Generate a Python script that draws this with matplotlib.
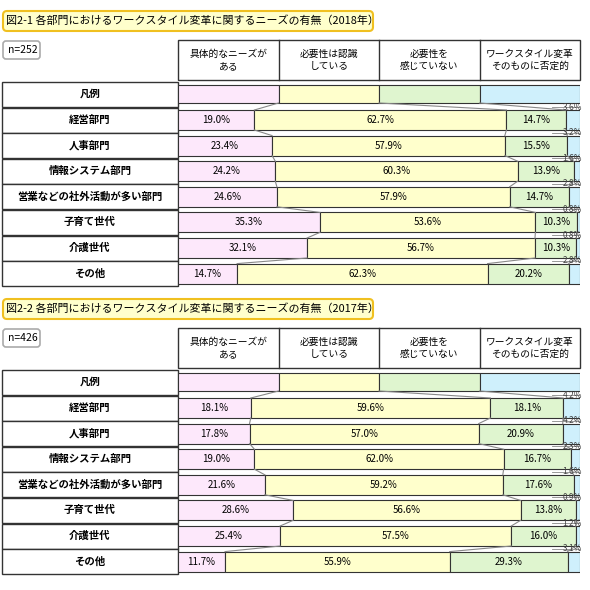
import numpy as np
import matplotlib.pyplot as plt
from matplotlib.patches import Rectangle, FancyBboxPatch

plt.rcParams['font.family'] = ['Noto Sans CJK JP', 'DejaVu Sans']

# ==========================
# Dati
# ==========================
categories = ["経営部門", "人事部門", "情報システム部門", "営業などの社外活動が多い部門",
              "子育て世代", "介護世代", "その他"]
series = ["具体的なニーズが\nある", "必要性は認識\nしている", "必要性を\n感じていない",
          "ワークスタイル変革\nそのものに否定的"]
titles = ["図2-1 各部門におけるワークスタイル変革に関するニーズの有無（2018年）",
          "図2-2 各部門におけるワークスタイル変革に関するニーズの有無（2017年）"]
n_labels = ["n=252", "n=426"]

vals_2018 = [[19.0, 62.7, 14.7, 3.6],
             [23.4, 57.9, 15.5, 3.2],
             [24.2, 60.3, 13.9, 1.6],
             [24.6, 57.9, 14.7, 2.8],
             [35.3, 53.6, 10.3, 0.8],
             [32.1, 56.7, 10.3, 0.8],
             [14.7, 62.3, 20.2, 2.8]]
vals_2017 = [[18.1, 59.6, 18.1, 4.2],
             [17.8, 57.0, 20.9, 4.2],
             [19.0, 62.0, 16.7, 2.3],
             [21.6, 59.2, 17.6, 1.6],
             [28.6, 56.6, 13.8, 0.9],
             [25.4, 57.5, 16.0, 1.2],
             [11.7, 55.9, 29.3, 3.1]]

colors = ["#fde8fb", "#ffffcc", "#dff5cf", "#cff0fc"]

W = H = 590
X0, X1 = 178, 580

fig = plt.figure(figsize=(5.9, 5.9), dpi=100)
bg = fig.add_axes([0, 0, 1, 1])
bg.set_xlim(0, W)
bg.set_ylim(H, 0)
bg.axis("off")
bar = fig.add_axes([X0 / W, 0, (X1 - X0) / W, 1])
bar.set_xlim(0, 100)
bar.set_ylim(H, 0)
bar.axis("off")
bar.patch.set_alpha(0)

edge = "#333333"
for p, (vals, off) in enumerate([(vals_2018, 0), (vals_2017, 288)]):
    # titolo
    bg.add_patch(FancyBboxPatch((3, 11 + off), 370, 20, boxstyle="round,pad=0,rounding_size=4",
                                fc="#ffffcc", ec="#f0c020", lw=1.5))
    bg.text(6, 21 + off, titles[p], fontsize=7.9, va="center", ha="left")
    bg.add_patch(FancyBboxPatch((3, 41 + off), 37, 18, boxstyle="round,pad=0,rounding_size=3",
                                fc="white", ec="#aaaaaa", lw=1.2))
    bg.text(8, 50 + off, n_labels[p], fontsize=7.5, va="center", ha="left")
    # intestazione
    bounds = np.linspace(X0, X1, 5)
    bg.add_patch(Rectangle((X0, 40 + off), X1 - X0, 40, fc="white", ec=edge, lw=1))
    for i in range(4):
        if i > 0:
            bg.plot([bounds[i]] * 2, [40 + off, 80 + off], color=edge, lw=1)
        bg.text((bounds[i] + bounds[i + 1]) / 2, 60 + off, series[i], fontsize=7,
                ha="center", va="center", linespacing=1.2)
    # etichette a sinistra
    rows = ["凡例"] + categories
    yc = [94 + off] + [120 + off + 25.6 * k for k in range(len(categories))]
    for lab, y in zip(rows, yc):
        bg.add_patch(Rectangle((2, y - 12.5), X0 - 2, 25, fc="white", ec=edge, lw=1))
        bg.text(90, y, lab, fontsize=7.5, ha="center", va="center", fontweight="bold")
    # legenda
    bar.barh(yc[0], [25] * 4, left=[0, 25, 50, 75], height=18, color=colors,
             edgecolor=edge, lw=0.8)
    prev = np.array([25, 50, 75])
    prev_y = yc[0] + 9
    for k, v in enumerate(vals):
        y = yc[k + 1]
        cum = np.cumsum([0] + v[:-1])
        bar.barh(y, v, left=cum, height=20, color=colors, edgecolor=edge, lw=0.8)
        for j in range(3):
            bar.text(cum[j] + v[j] / 2, y, f"{v[j]:.1f}%", fontsize=7,
                     ha="center", va="center")
        bnd = cum[1:]
        for a, b in zip(prev, bnd):
            bar.plot([a, b], [prev_y, y - 10], color="#888888", lw=0.8)
        bar.text(100.5, y - 13, f"{v[3]:.1f}%", fontsize=6, ha="right", va="center",
                 color="#444444", clip_on=False)
        bar.plot([93, 100], [y - 13, y - 13], color="#888888", lw=0.6)
        prev = bnd
        prev_y = y + 10

fig.savefig("out.png", dpi=100)
